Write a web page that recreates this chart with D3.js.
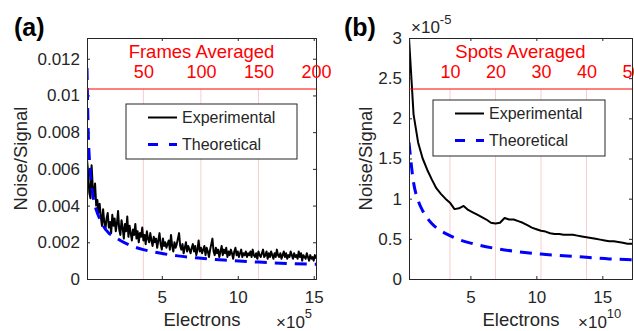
<!DOCTYPE html>
<html>
<head>
<meta charset="utf-8">
<script src="https://cdn.jsdelivr.net/npm/d3@7/dist/d3.min.js"></script>
<style>
  body { margin: 0; background: #fff; }
  svg { display: block; font-family: "Liberation Sans", Arial, Helvetica, sans-serif; }
</style>
</head>
<body>
<div id="chart"></div>
<script>
// ---- panel (a): frames averaged ----
const framesMaxA = 200;
const electronsPerFrameA = 0.07575;           // x10^5 electrons per frame
// experimental noise/signal per frame (units of 1e-4)
const expA = [
  65, 58, 47, 44, 62, 50, 45, 52, 40, 43,
  36, 41, 34, 29, 38, 31, 27, 33, 36, 28,
  31, 25, 35, 29, 33, 26, 30, 37, 27, 24,
  32, 28, 22, 30, 26, 34, 23, 29, 25, 21,
  27, 24, 30, 22, 26, 20, 25, 23, 28, 21,
  24, 19, 26, 22, 20, 25, 21, 18, 23, 20,
  22, 17, 21, 25, 19, 16, 22, 18, 20, 17,
  19, 21, 16, 24, 18, 15, 20, 17, 19, 22,
  25, 18, 16, 19, 14, 17, 20, 15, 18, 16,
  14, 17, 19, 15, 18, 13, 16, 21, 15, 17,
  14, 16, 18, 13, 17, 15, 12, 16, 19, 22,
  15, 13, 17, 14, 16, 12, 15, 18, 13, 16,
  14, 17, 12, 15, 13, 16, 14, 11, 15, 17,
  13, 15, 12, 14, 16, 12, 14, 13, 15, 12,
  14, 13, 15, 12, 16, 13, 12, 14, 11, 15,
  13, 12, 14, 16, 12, 13, 15, 11, 14, 12,
  15, 13, 11, 14, 12, 16, 13, 12, 14, 11,
  13, 15, 12, 14, 11, 13, 12, 15, 13, 11,
  14, 12, 13, 11, 15, 12, 14, 10, 13, 12,
  11, 14, 12, 10, 13, 11, 12, 10, 13, 11
];
const theoFramesA = [1, 2, 3, 4, 5, 6, 8, 10, 12, 15, 20, 25, 30, 40, 50, 60, 80, 100, 120, 150, 175, 200];
const theoA = [0.0115, 0.0081, 0.0066, 0.0057, 0.0051, 0.0046, 0.0040, 0.0036, 0.0033, 0.0029, 0.0025,
  0.0023, 0.0021, 0.0018, 0.0016, 0.00146, 0.00126, 0.00113, 0.00103, 0.00092, 0.00085, 0.0008];
const yTicksA = [0, 0.002, 0.004, 0.006, 0.008, 0.01, 0.012];
const xTicksA = [5, 10, 15];
const frameTicksA = [50, 100, 150, 200];

// ---- panel (b): spots averaged ----
const spotsMaxB = 50;
const electronsPerSpotB = 0.345;              // x10^10 electrons per spot
// experimental noise/signal per spot (units of 1e-5)
const expB = [3.0, 2.05, 1.70, 1.50, 1.36, 1.24, 1.13, 1.06, 1.00, 0.95,
  0.87, 0.88, 0.91, 0.86, 0.83, 0.80, 0.77, 0.74, 0.70, 0.69,
  0.70, 0.76, 0.74, 0.74, 0.72, 0.70, 0.67, 0.64, 0.62, 0.60,
  0.59, 0.57, 0.56, 0.56, 0.55, 0.55, 0.55, 0.54, 0.53, 0.52,
  0.51, 0.50, 0.49, 0.48, 0.47, 0.47, 0.46, 0.45, 0.44, 0.44];
const theoSpotsB = [1, 2, 3, 4, 5, 6, 8, 10, 12, 15, 20, 25, 30, 35, 40, 45, 50];
const theoB = [1.70, 1.20, 0.98, 0.85, 0.76, 0.69, 0.60, 0.54, 0.49, 0.44, 0.38, 0.34, 0.31, 0.29, 0.27, 0.25, 0.24];
const yTicksB = [0, 0.5, 1, 1.5, 2, 2.5, 3];
const xTicksB = [5, 10, 15];
const spotTicksB = [10, 20, 30, 40, 50];

const W = 634, H = 331;
const ink = "#262626";
const red = "#ff0000";

const svg = d3.select("#chart").append("svg")
  .attr("width", W).attr("height", H)
  .attr("viewBox", `0 0 ${W} ${H}`);

function drawPanel(o) {
  const g = svg.append("g");

  const x = d3.scaleLinear().domain([o.perUnit, o.perUnit * o.nMax]).range([o.left, o.right]);
  const xs = d3.scaleLinear().domain([1, o.nMax]).range([o.left, o.right]);
  const y = d3.scaleLinear().domain([0, o.yMax]).range([o.bottom, o.top]);

  // faint red grid of the secondary axis
  g.append("g").selectAll("line")
    .data(o.secTicks.filter(t => t < o.nMax))
    .join("line")
    .attr("x1", d => xs(d)).attr("x2", d => xs(d))
    .attr("y1", o.redY).attr("y2", o.bottom)
    .attr("stroke", "#f7cfcf").attr("stroke-width", 1);

  const clipId = "clip" + o.id;
  svg.append("clipPath").attr("id", clipId).append("rect")
    .attr("x", o.left).attr("y", o.top)
    .attr("width", o.right - o.left).attr("height", o.bottom - o.top);

  const plot = g.append("g").attr("clip-path", `url(#${clipId})`);

  const expLine = d3.line()
    .x((d, i) => xs(i + 1))
    .y(d => y(d * o.expScale));
  plot.append("path")
    .datum(o.exp)
    .attr("d", expLine)
    .attr("fill", "none").attr("stroke", "#000")
    .attr("stroke-width", o.expWidth).attr("stroke-linejoin", "round");

  const theoLine = d3.line()
    .x(d => xs(d[0]))
    .y(d => y(d[1]))
    .curve(d3.curveMonotoneX);
  plot.append("path")
    .datum(o.theoN.map((n, i) => [n, o.theo[i]]))
    .attr("d", theoLine)
    .attr("fill", "none").attr("stroke", "#0000ff")
    .attr("stroke-width", 3).attr("stroke-dasharray", "12,8");

  // main axes
  const yAxis = d3.axisLeft(y).tickValues(o.yTicks).tickSize(-3).tickPadding(7)
    .tickFormat(d3.format("~g"));
  const yAxisR = d3.axisRight(y).tickValues(o.yTicks).tickSize(-3).tickFormat("");
  const xAxis = d3.axisBottom(x).tickValues(o.xTicks).tickSize(-3).tickPadding(12)
    .tickFormat(d3.format("~g"));
  const xAxisT = d3.axisTop(x).tickValues(o.xTicks).tickSize(-3).tickFormat("");

  const styleAxis = sel => {
    sel.select(".domain").attr("stroke", ink).attr("stroke-width", 1);
    sel.selectAll(".tick line").attr("stroke", ink);
    sel.selectAll(".tick text").attr("fill", ink).attr("font-size", 17);
    sel.attr("font-family", null);
  };

  g.append("g").attr("transform", `translate(${o.left},0)`).call(yAxis).call(styleAxis);
  g.append("g").attr("transform", `translate(${o.right},0)`).call(yAxisR).call(styleAxis);
  g.append("g").attr("transform", `translate(0,${o.bottom})`).call(xAxis).call(styleAxis);
  g.append("g").attr("transform", `translate(0,${o.top})`).call(xAxisT).call(styleAxis);

  // secondary (red) axis along its top edge
  const secAxis = d3.axisTop(xs).tickValues(o.secTicks).tickSize(0).tickSizeOuter(0).tickPadding(11)
    .tickFormat(d3.format("d"));
  const sa = g.append("g").attr("transform", `translate(0,${o.redY})`).call(secAxis);
  sa.attr("font-family", null);
  sa.select(".domain").remove();
  sa.selectAll(".tick text").attr("fill", red).attr("font-size", 18);
  g.append("line")
    .attr("x1", o.left).attr("x2", o.right)
    .attr("y1", o.redY).attr("y2", o.redY)
    .attr("stroke", red).attr("stroke-width", 1.2);

  g.append("text")
    .attr("x", (o.left + o.right) / 2).attr("y", 58)
    .attr("text-anchor", "middle").attr("fill", red).attr("font-size", 18.5)
    .text(o.secLabel);

  // labels
  g.append("text")
    .attr("x", o.xLabelX).attr("y", 326)
    .attr("text-anchor", "middle").attr("fill", ink).attr("font-size", 18.5)
    .text("Electrons");

  const xm = g.append("text")
    .attr("x", o.xMultX).attr("y", 328)
    .attr("fill", ink).attr("font-size", 17);
  xm.append("tspan").text("\u00d710");
  xm.append("tspan").attr("dy", -10).attr("font-size", 13).text(o.xExp);

  g.append("text")
    .attr("transform", `translate(${o.yLabelX},${(o.top + o.bottom) / 2}) rotate(-90)`)
    .attr("text-anchor", "middle").attr("fill", ink).attr("font-size", 18.5)
    .text("Noise/Signal");

  g.append("text")
    .attr("x", o.tagX).attr("y", 36)
    .attr("font-size", 25).attr("font-weight", "bold").attr("fill", "#000")
    .text(o.tag);

  // legend
  const lg = g.append("g");
  lg.append("rect")
    .attr("x", o.leg.x).attr("y", o.leg.y)
    .attr("width", o.leg.w).attr("height", o.leg.h)
    .attr("fill", "#fff").attr("stroke", ink).attr("stroke-width", 1);
  const items = [
    { label: "Experimental", color: "#000", width: 2, dash: null },
    { label: "Theoretical", color: "#0000ff", width: 3, dash: "10,11" }
  ];
  items.forEach((it, i) => {
    const cy = o.leg.y + 13.5 + i * 27;
    lg.append("line")
      .attr("x1", o.leg.x + 22).attr("x2", o.leg.x + 51)
      .attr("y1", cy).attr("y2", cy)
      .attr("stroke", it.color).attr("stroke-width", it.width)
      .attr("stroke-dasharray", it.dash);
    lg.append("text")
      .attr("x", o.leg.x + 56).attr("y", cy)
      .attr("dy", "0.35em").attr("fill", ink).attr("font-size", 16)
      .text(it.label);
  });

  return g;
}

drawPanel({
  id: "a", tag: "(a)", tagX: 14,
  left: 87, right: 316, top: 38, bottom: 279, redY: 89,
  nMax: framesMaxA, perUnit: electronsPerFrameA,
  yMax: 0.01313, yTicks: yTicksA, xTicks: xTicksA,
  exp: expA, expScale: 1e-4, expWidth: 2,
  theoN: theoFramesA, theo: theoA,
  secTicks: frameTicksA, secLabel: "Frames Averaged",
  xLabelX: 202, xMultX: 276, xExp: "5", yLabelX: 27,
  leg: { x: 126, y: 104, w: 171, h: 55 }
});

const pb = drawPanel({
  id: "b", tag: "(b)", tagX: 344,
  left: 409, right: 632, top: 38, bottom: 279, redY: 89,
  nMax: spotsMaxB, perUnit: electronsPerSpotB,
  yMax: 3, yTicks: yTicksB, xTicks: xTicksB,
  exp: expB, expScale: 1, expWidth: 2,
  theoN: theoSpotsB, theo: theoB,
  secTicks: spotTicksB, secLabel: "Spots Averaged",
  xLabelX: 521, xMultX: 578, xExp: "10", yLabelX: 372,
  leg: { x: 433, y: 100, w: 172, h: 56 }
});

// y multiplier of panel (b)
const ym = pb.append("text")
  .attr("x", 411).attr("y", 33)
  .attr("fill", ink).attr("font-size", 17);
ym.append("tspan").text("\u00d710");
ym.append("tspan").attr("dy", -9).attr("font-size", 13).text("-5");
</script>
</body>
</html>
